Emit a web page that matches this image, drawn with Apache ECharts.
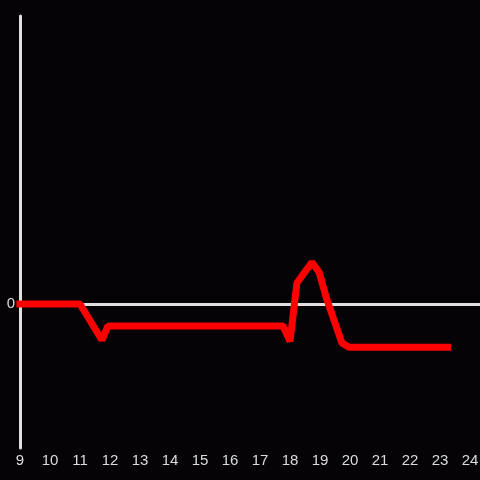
<!DOCTYPE html>
<html>
<head>
<meta charset="utf-8">
<script src="https://cdn.jsdelivr.net/npm/echarts@6/dist/echarts.min.js"></script>
<style>
  html, body { margin: 0; padding: 0; background: #050306; overflow: hidden; }
  #chart { width: 480px; height: 480px; }
</style>
</head>
<body>
<div id="chart"></div>
<script>
// hours and values
var hours  = [9, 11, 11.73, 11.93, 17.77, 18.0, 18.23, 18.73, 18.97, 19.23, 19.73, 19.97, 23.25];
var values = [0, 0, -0.25, -0.153, -0.153, -0.26, 0.146, 0.29, 0.22, 0.03, -0.27, -0.3, -0.3];

var points = hours.map(function (h, i) { return [h, values[i]]; });

var chart = echarts.init(document.getElementById('chart'));
chart.setOption({
  backgroundColor: '#050306',
  animation: false,
  grid: { left: 20, right: 0, top: 16, bottom: 32, outerBoundsMode: 'none' },
  xAxis: {
    type: 'value',
    min: 9,
    max: 24.333,
    interval: 1,
    axisLine: { show: false },
    axisTick: { show: false },
    splitLine: { show: false },
    axisLabel: { color: '#dcdcdc', fontSize: 15, margin: 5,
      formatter: function (v) { return Math.abs(v - Math.round(v)) < 1e-6 ? String(Math.round(v)) : ''; } }
  },
  yAxis: {
    type: 'value',
    min: -1,
    max: 2,
    interval: 1,
    axisLine: { show: true, lineStyle: { color: '#e0e0e0', width: 3 } },
    axisTick: { show: false },
    splitLine: { show: false },
    axisLabel: { color: '#dcdcdc', fontSize: 15, margin: 5,
      formatter: function (v) { return v === 0 ? '0' : ''; } }
  },
  series: [{
    type: 'line',
    data: points,
    symbol: 'none',
    lineStyle: { color: '#ff0000', width: 7, cap: 'square' },
    markLine: {
      silent: true,
      symbol: 'none',
      label: { show: false },
      lineStyle: { color: '#e0e0e0', width: 3, type: 'solid' },
      data: [{ yAxis: 0 }],
      z: 1
    },
    z: 3
  }]
});
</script>
</body>
</html>
